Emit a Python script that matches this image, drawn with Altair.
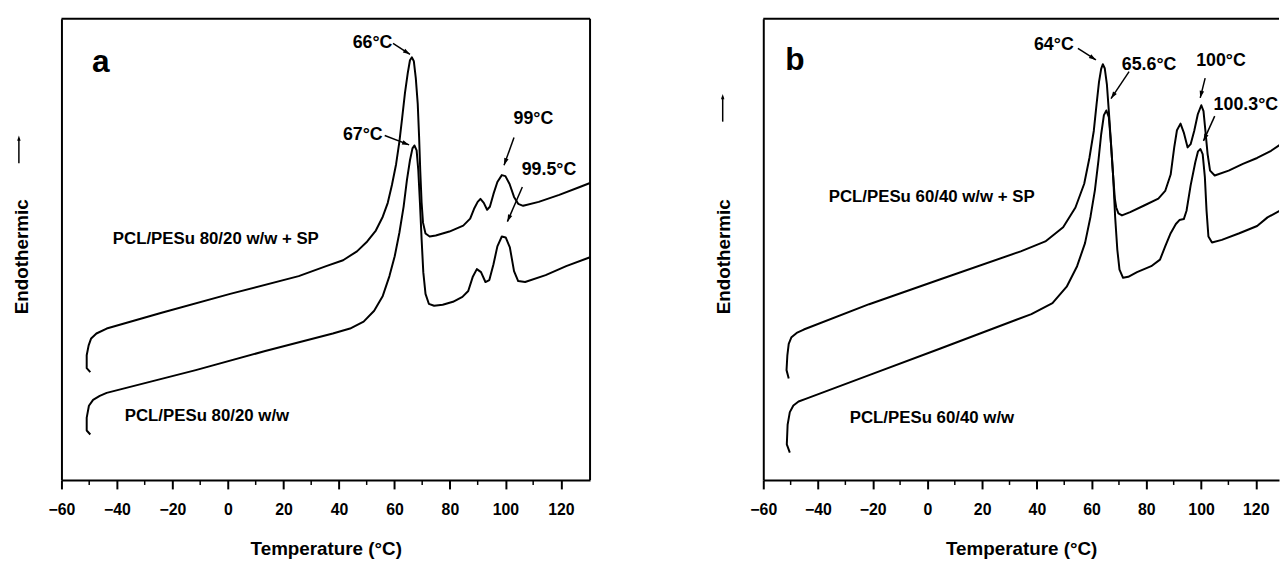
import math
import altair as alt
import pandas as pd

FONT = "Liberation Sans, Arial, Helvetica, sans-serif"
H = 466

# ---------------- data ----------------
# Panel a : PCL/PESu 80/20 w/w + SP  (upper trace)
A_SP_T = [-49.6, -50.9, -50.9, -50.2, -49.3, -47.4, -43.7, -23.9, 0.8, 25.5, 35.4, 41.5, 46.5, 50.2, 53.3,
          55.8, 57.6, 59.1, 60.6, 61.8, 62.8, 63.8, 64.8, 65.6, 66.3, 67.0, 67.7, 68.4, 68.9, 69.3, 69.8,
          70.3, 71.2, 72.7, 74.9, 79.8, 84.8, 87.3, 88.7, 90.0, 91.0, 92.2, 93.4, 94.4, 95.7, 97.1, 98.7,
          100.0, 101.5, 103.1, 104.6, 106.4, 112.0, 119.4, 126.8, 130.5]
A_SP_V = [109, 113, 126, 136, 143, 148, 153, 169, 188, 206, 216, 222, 231, 241, 252,
          266, 280, 298, 319, 342, 366, 391, 411, 424, 427, 423, 406, 380, 346, 313, 280,
          260, 249, 246, 247, 251, 257, 264, 274, 281, 284, 280, 273, 276, 289, 301, 308,
          307, 299, 286, 279, 277, 281, 288, 296, 300]
# Panel a : PCL/PESu 80/20 w/w (lower trace)
A_T = [-49.6, -50.9, -50.9, -50.1, -48.6, -46.2, -43.7, -11.6, 13.1, 37.8, 44.0, 48.9, 52.7, 55.8, 58.2,
       60.1, 61.8, 63.3, 64.5, 65.6, 66.5, 67.2, 68.0, 68.6, 69.2, 69.8, 70.4, 71.2, 72.4, 74.3, 77.4,
       81.1, 84.5, 86.6, 88.2, 89.7, 91.2, 92.8, 94.2, 95.7, 97.1, 98.7, 100.1, 101.6, 103.1, 104.6,
       107.1, 114.5, 121.9, 130.5]
A_V = [46, 50, 63, 75, 81, 85, 88, 111, 130, 148, 153, 160, 171, 186, 206,
       226, 250, 276, 303, 323, 335, 338, 333, 313, 280, 243, 210, 188, 178, 176, 177,
       180, 185, 191, 205, 213, 210, 200, 202, 218, 236, 246, 245, 235, 211, 201,
       200, 207, 216, 225]

# Panel b : PCL/PESu 60/40 w/w + SP (upper trace)
B_SP_T = [-50.7, -51.5, -51.2, -50.7, -49.7, -47.8, -45.2, -21.3, 4.5, 34.1, 43.1, 49.6, 54.1, 57.3, 59.2,
          60.8, 61.8, 62.7, 63.5, 64.1, 64.8, 65.6, 66.3, 67.1, 67.9, 68.5, 69.0, 69.8, 71.1, 74.1,
          79.2, 84.4, 86.9, 88.9, 90.2, 91.2, 92.5, 93.7, 95.1, 96.2, 97.5, 98.8, 100.1, 100.9, 101.6,
          102.4, 103.3, 105.0, 110.1, 115.3, 120.5, 125.6, 129.2]
B_SP_V = [102.6, 111, 126, 137.6, 144.3, 148.6, 152, 177.6, 202.6, 231, 241, 255.3, 275.3, 299.3, 325.3,
          352.6, 379.3, 402, 415.3, 420, 416, 399.3, 372.6, 339.3, 306, 284.3, 275.3, 269.3, 267.3, 270.6,
          277.3, 284.3, 292, 308.6, 336, 353.3, 360, 351, 336, 339.3, 352.6, 369.3, 378.6, 372.6, 352.6,
          329.3, 312.6, 307.6, 312.6, 319.3, 325.3, 332.6, 339.3]
# Panel b : PCL/PESu 60/40 w/w (lower trace)
B_T = [-50.3, -51.4, -51.1, -50.3, -49.0, -47.1, -44.5, -21.3, 4.5, 38.0, 45.7, 50.9, 54.7, 57.6, 59.6,
       61.2, 62.5, 63.5, 64.5, 65.4, 66.3, 67.1, 67.9, 68.6, 69.4, 70.2, 71.5, 73.4, 76.6, 81.8,
       85.0, 86.9, 88.9, 90.8, 92.1, 93.7, 94.7, 96.2, 97.9, 98.9, 99.8, 100.6, 101.4, 102.0, 102.7,
       104.0, 107.6, 114.0, 120.5, 124.3, 129.2]
B_V = [27.6, 36, 56, 68.6, 75.3, 79.3, 82, 106, 132.6, 167.6, 178.6, 195.3, 216, 239.3, 266,
       292.6, 322.6, 349.3, 368.6, 373.3, 366.6, 339.3, 306, 266, 232.6, 212.6, 204.3, 205.3, 210, 216,
       222.6, 236, 249.3, 258.6, 262.6, 263.6, 272, 297.6, 321, 332, 334.3, 329.3, 306, 272.6, 246,
       240, 242.6, 249.3, 256.6, 265.3, 272.6]

X_TICKS = [-60, -40, -20, 0, 20, 40, 60, 80, 100, 120]
X_MINOR = [-50, -30, -10, 10, 30, 50, 70, 90, 110]

# peak annotations
A_LAB_TEXT = ["66°C", "67°C", "99°C", "99.5°C"]
A_LAB_T = [52.1, 48.6, 110.1, 115.7]
A_LAB_V = [441, 348, 365, 313]
A_ARR_T1 = [59.5, 56.5, 103.1, 106.1]
A_ARR_V1 = [441, 348, 346, 296]
A_ARR_T2 = [65.6, 65.3, 99.5, 100.7]
A_ARR_V2 = [430, 338.5, 318, 261]

B_LAB_TEXT = ["64°C", "65.6°C", "100°C"]
B_LAB_T = [46.2, 81.0, 107.3]
B_LAB_V = [439, 419, 423]
B_LAB2_TEXT = ["100.3°C"]
B_LAB2_T = [104.6]
B_LAB2_V = [379]
B_ARR_T1 = [55.0, 73.7, 101.5, 105.0]
B_ARR_V1 = [436, 412.6, 406, 367.6]
B_ARR_T2 = [61.6, 67.1, 99.7, 100.9]
B_ARR_V2 = [424.3, 385.3, 386, 342.6]

A_SERIES = ["PCL/PESu 80/20 w/w + SP", "PCL/PESu 80/20 w/w"]
A_SERIES_T = [-41.5, -37.2]
A_SERIES_V = [243, 65]
B_SERIES = ["PCL/PESu 60/40 w/w + SP", "PCL/PESu 60/40 w/w"]
B_SERIES_T = [-36.1, -28.4]
B_SERIES_V = [286, 63]

HEAD = "M0,0L-0.55,1.7L0.55,1.7Z"


def make_panel(curves, lab, lab_left, arrows, series, letter, letter_pos,
               xmax, width, right_frame, yarrow):
    pxT = width / (xmax + 60.0)
    pxV = H / 466.0
    xs = alt.Scale(domain=[-60, xmax], nice=False, zero=False)
    ys = alt.Scale(domain=[0, 466], nice=False, zero=False)
    ax_x = alt.Axis(values=X_TICKS, tickSize=9, tickWidth=2, tickColor="black",
                    domainColor="black", domainWidth=2, grid=False,
                    labelFont=FONT, labelFontSize=16, labelFontWeight="bold", labelColor="black",
                    labelPadding=13, labelFlush=False, labelOverlap=False,
                    title="Temperature (°C)", titleFont=FONT, titleFontSize=19,
                    titleFontWeight="bold", titleColor="black", titlePadding=22)
    ax_y = alt.Axis(ticks=False, labels=False, grid=False, domainColor="black", domainWidth=2,
                    title="Endothermic", titleFont=FONT, titleFontSize=19, titleFontWeight="bold",
                    titleColor="black", titlePadding=30, titleY=240)

    def X(f):
        return alt.X(f"{f}:Q", scale=xs, axis=ax_x)

    def Y(f):
        return alt.Y(f"{f}:Q", scale=ys, axis=ax_y)

    frames = []
    for name, (T, V) in curves.items():
        frames.append(pd.DataFrame({"T": T, "v": V, "curve": name, "i": range(len(T))}))
    cdf = pd.concat(frames, ignore_index=True)

    lines = alt.Chart(cdf).mark_line(color="black", strokeWidth=2, clip=True,
                                     strokeJoin="round").encode(
        x=X("T"), y=Y("v"), detail="curve:N", order="i:Q")

    minor = alt.Chart(pd.DataFrame({"T": X_MINOR})).mark_rule(
        color="black", strokeWidth=1.5).encode(x=X("T"), y=alt.value(H), y2=alt.value(H + 5))

    t1, v1, t2, v2 = arrows
    ang = [math.degrees(math.atan2((b - a) * pxT, (d - c) * pxV)) % 360
           for a, c, b, d in zip(t1, v1, t2, v2)]
    adf = pd.DataFrame({"T": t1, "v": v1, "T2": t2, "v2": v2, "ang": ang})
    shafts = alt.Chart(adf).mark_rule(color="black", strokeWidth=1.5).encode(
        x=X("T"), y=Y("v"), x2="T2:Q", y2="v2:Q")
    heads = alt.Chart(adf).mark_point(shape=HEAD, filled=True, color="black", size=70,
                                      opacity=1).encode(
        x=X("T2"), y=Y("v2"), angle=alt.Angle("ang:Q", scale=None))

    ldf = pd.DataFrame({"T": lab[1], "v": lab[2], "s": lab[0]})
    labels = alt.Chart(ldf).mark_text(font=FONT, fontSize=18, fontWeight="bold", color="black",
                                      align="center", baseline="middle").encode(
        x=X("T"), y=Y("v"), text="s:N")

    layers = [lines, minor, shafts, heads, labels]

    if lab_left is not None:
        l2 = pd.DataFrame({"T": lab_left[1], "v": lab_left[2], "s": lab_left[0]})
        layers.append(alt.Chart(l2).mark_text(font=FONT, fontSize=18, fontWeight="bold",
                                              color="black", align="left",
                                              baseline="middle").encode(
            x=X("T"), y=Y("v"), text="s:N"))

    sdf = pd.DataFrame({"T": series[1], "v": series[2], "s": series[0]})
    layers.append(alt.Chart(sdf).mark_text(font=FONT, fontSize=17, fontWeight="bold",
                                           color="black", align="left",
                                           baseline="middle").encode(
        x=X("T"), y=Y("v"), text="s:N"))

    gdf = pd.DataFrame({"T": [letter_pos[0]], "v": [letter_pos[1]], "s": [letter]})
    layers.append(alt.Chart(gdf).mark_text(font=FONT, fontSize=32, fontWeight="bold",
                                           color="black", align="center",
                                           baseline="middle").encode(
        x=X("T"), y=Y("v"), text="s:N"))

    one = pd.DataFrame({"d": [0]})
    layers.append(alt.Chart(one).mark_rule(color="black", strokeWidth=2).encode(
        x=alt.value(0), x2=alt.value(width), y=alt.value(0)))
    if right_frame:
        layers.append(alt.Chart(one).mark_rule(color="black", strokeWidth=2).encode(
            x=alt.value(width), y=alt.value(0), y2=alt.value(H)))
    # the vertical "endothermic up" arrow beside the axis title
    ax_pos, ay_top, ay_bot = yarrow
    layers.append(alt.Chart(one).mark_rule(color="black", strokeWidth=1.5).encode(
        x=alt.value(ax_pos), y=alt.value(ay_top + 3), y2=alt.value(ay_bot)))
    layers.append(alt.Chart(one).mark_point(shape=HEAD, filled=True, color="black", size=40,
                                            opacity=1).encode(
        x=alt.value(ax_pos), y=alt.value(ay_top)))

    return alt.layer(*layers).properties(width=width, height=H)


pa = make_panel(
    {"sp": (A_SP_T, A_SP_V), "plain": (A_T, A_V)},
    (A_LAB_TEXT, A_LAB_T, A_LAB_V), None,
    (A_ARR_T1, A_ARR_V1, A_ARR_T2, A_ARR_V2),
    (A_SERIES, A_SERIES_T, A_SERIES_V), "a", (-45.8, 422),
    130.5, 534, True, (-43, 118, 146))

pb = make_panel(
    {"sp": (B_SP_T, B_SP_V), "plain": (B_T, B_V)},
    (B_LAB_TEXT, B_LAB_T, B_LAB_V), (B_LAB2_TEXT, B_LAB2_T, B_LAB2_V),
    (B_ARR_T1, B_ARR_V1, B_ARR_T2, B_ARR_V2),
    (B_SERIES, B_SERIES_T, B_SERIES_V), "b", (-48.4, 424),
    128.5, 521, False, (-41, 76, 104))

chart = alt.hconcat(pa, pb, spacing=125).properties(
    padding={"left": 5, "top": 7, "right": 0, "bottom": 0}
).configure_view(strokeWidth=0)

chart.save("out.html", embed_options={"renderer": "svg", "actions": False})
